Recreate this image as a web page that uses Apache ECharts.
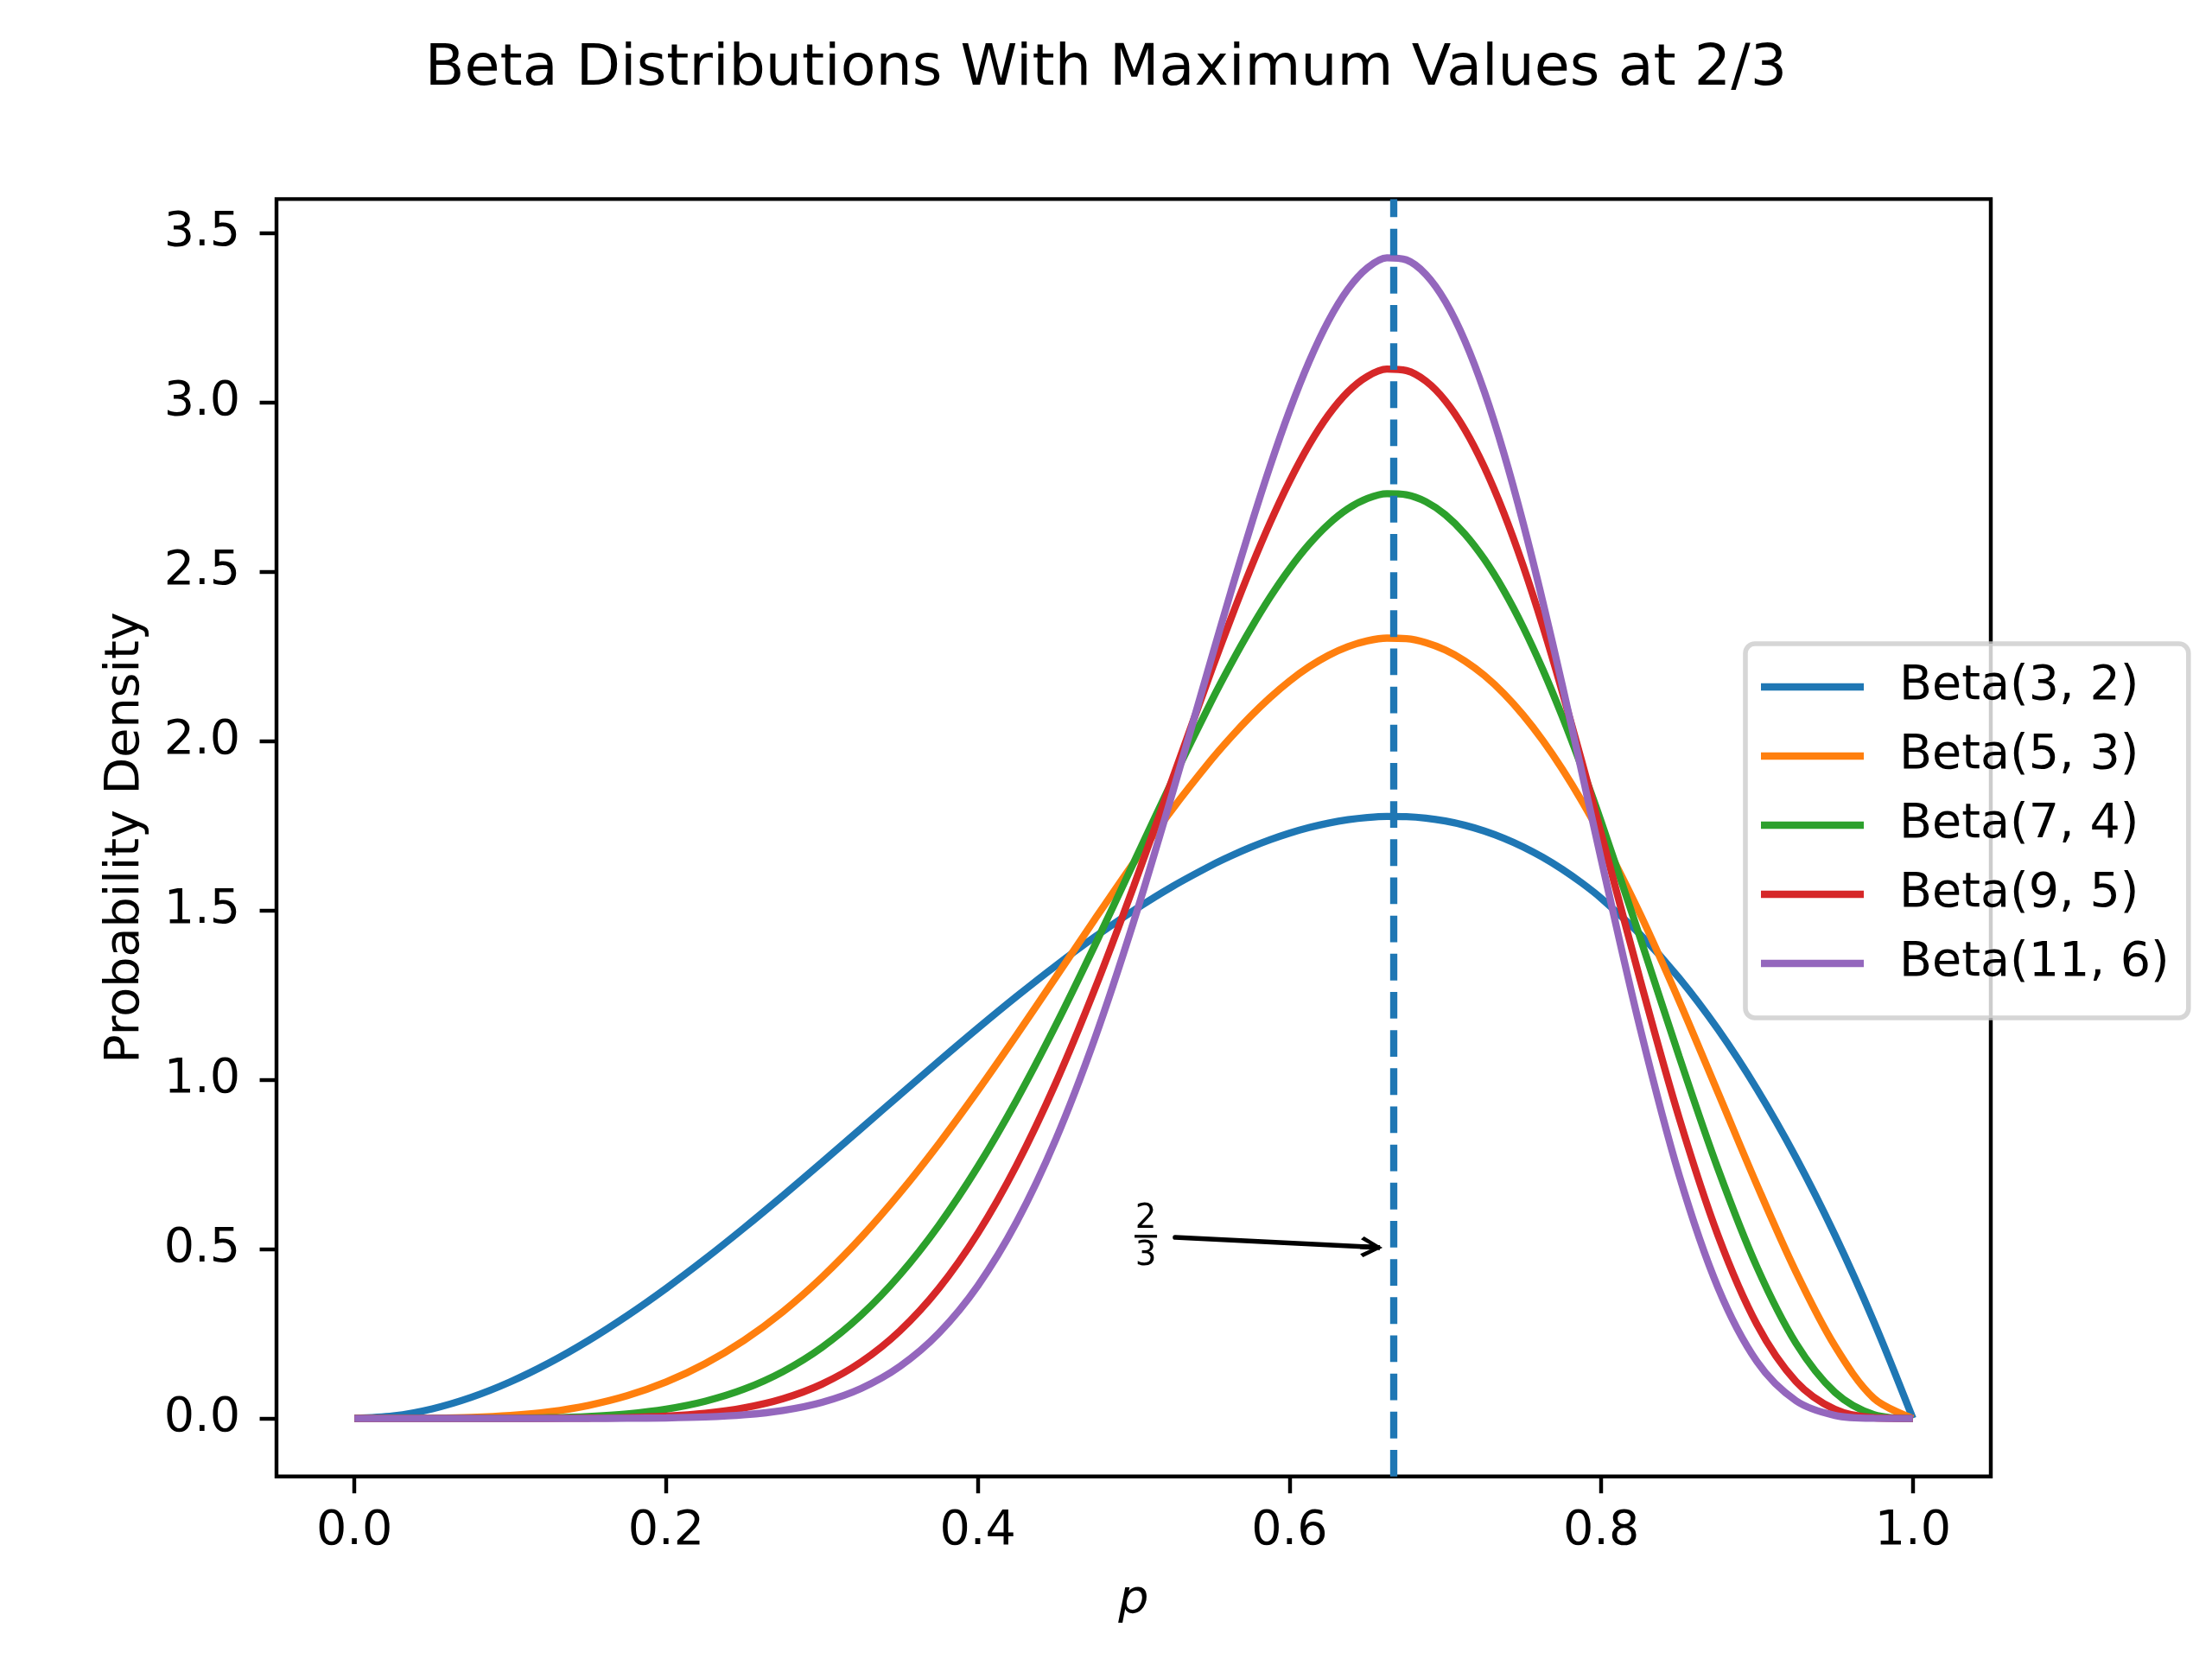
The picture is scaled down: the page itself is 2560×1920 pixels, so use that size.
<!DOCTYPE html>
<html>
<head>
<meta charset="utf-8">
<script src="https://cdn.jsdelivr.net/npm/echarts@6/dist/echarts.min.js"></script>
<style>
  html, body { margin: 0; padding: 0; background: #fff; }
  #chart { width: 2560px; height: 1920px; }
</style>
</head>
<body>
<div id="chart"></div>
<script>
// p values where the curves were read (finer around the peaks)
const xs = [0, 0.025, 0.05, 0.075, 0.1, 0.125, 0.15, 0.175, 0.2, 0.225, 0.25, 0.275, 0.3, 0.325, 0.35, 0.375, 0.4, 0.425, 0.45, 0.475, 0.5, 0.525, 0.55,
  0.5625, 0.575, 0.5875, 0.6, 0.6125, 0.625, 0.6375, 0.65, 0.6625, 0.675, 0.6875, 0.7, 0.7125, 0.725, 0.7375, 0.75, 0.7625, 0.775, 0.7875,
  0.8, 0.825, 0.85, 0.875, 0.9, 0.925, 0.95, 0.975, 1]

// densities, one list per curve
const beta32 = [0, 0.0073, 0.0285, 0.0624, 0.108, 0.1641, 0.2295, 0.3032, 0.384, 0.4708, 0.5625, 0.6579, 0.756, 0.8556, 0.9555, 1.0547, 1.152, 1.2463, 1.3365, 1.4214, 1.5, 1.5711, 1.6335,
  1.6611, 1.6862, 1.7085, 1.728, 1.7445, 1.7578, 1.7679, 1.7745, 1.7776, 1.7769, 1.7725, 1.764, 1.7514, 1.7346, 1.7133, 1.6875, 1.657, 1.6217, 1.5814,
  1.536, 1.4293, 1.3005, 1.1484, 0.972, 0.7701, 0.5415, 0.2852, 0]
const beta53 = [0, 0, 0.0006, 0.0028, 0.0085, 0.0196, 0.0384, 0.067, 0.1075, 0.1616, 0.2307, 0.3156, 0.4168, 0.5337, 0.6657, 0.8111, 0.9677, 1.1326, 1.3025, 1.4733, 1.6406, 1.7998, 1.9457,
  2.012, 2.0732, 2.1285, 2.1773, 2.219, 2.2531, 2.2789, 2.296, 2.304, 2.3024, 2.2908, 2.2689, 2.2367, 2.1939, 2.1404, 2.0764, 2.0021, 1.9176, 1.8235,
  1.7203, 1.4896, 1.2332, 0.9617, 0.6889, 0.4324, 0.2138, 0.0593, 0]
const beta74 = [0, 0, 0, 0.0001, 0.0006, 0.0021, 0.0059, 0.0135, 0.0275, 0.0507, 0.0865, 0.1385, 0.21, 0.3044, 0.4241, 0.5703, 0.7432, 0.9411, 1.1605, 1.3961, 1.6406, 1.885, 2.1188,
  2.2282, 2.3305, 2.4244, 2.5082, 2.5807, 2.6403, 2.6859, 2.7162, 2.7303, 2.7274, 2.7069, 2.6683, 2.6116, 2.5369, 2.4448, 2.336, 2.2116, 2.0732, 1.9225,
  1.7616, 1.4194, 1.0692, 0.7363, 0.4464, 0.222, 0.0772, 0.0113, 0]
const beta95 = [0, 0, 0, 0, 0, 0.0002, 0.0009, 0.0026, 0.0067, 0.0152, 0.0311, 0.0582, 0.1014, 0.1663, 0.2587, 0.384, 0.5466, 0.7488, 0.9902, 1.2669, 1.571, 1.8906, 2.2095,
  2.3629, 2.5087, 2.6443, 2.7669, 2.874, 2.9629, 3.0313, 3.077, 3.0984, 3.0939, 3.0629, 3.0048, 2.92, 2.8092, 2.674, 2.5165, 2.3395, 2.1463, 1.9408,
  1.7274, 1.2952, 0.8877, 0.5398, 0.277, 0.1091, 0.0267, 0.0021, 0]
const beta116 = [0, 0, 0, 0, 0, 0, 0.0001, 0.0005, 0.0016, 0.0045, 0.0109, 0.0238, 0.0477, 0.0885, 0.1538, 0.252, 0.3918, 0.5806, 0.8234, 1.1205, 1.4663, 1.8482, 2.2458,
  2.4423, 2.6321, 2.8111, 2.975, 3.1196, 3.2407, 3.3344, 3.3974, 3.4269, 3.4208, 3.3779, 3.2981, 3.1821, 3.0319, 2.8506, 2.6423, 2.4121, 2.1657, 1.9098,
  1.6509, 1.1519, 0.7183, 0.3858, 0.1675, 0.0523, 0.009, 0.0004, 0]

const names = ['Beta(3, 2)', 'Beta(5, 3)', 'Beta(7, 4)', 'Beta(9, 5)', 'Beta(11, 6)']
const colors = ['#1f77b4', '#ff7f0e', '#2ca02c', '#d62728', '#9467bd']
const curves = [beta32, beta53, beta74, beta95, beta116]

const xTicks = [0, 0.2, 0.4, 0.6, 0.8, 1.0]
const yTicks = [0, 0.5, 1.0, 1.5, 2.0, 2.5, 3.0, 3.5]
const xMin = -0.05, xMax = 1.05
const yMin = -0.171446, yMax = 3.600357
const peakX = 2 / 3

// annotation: text at (0.5, 0.5), arrow to (2/3, 0.5)
const fracAt = [0.5078, 0.5378]
const arrowFrom = [0.5266, 0.5347]
const arrowTo = [0.6525, 0.5058]

const font = 'DejaVu Sans'
const pt = 400 / 72  // figure is 400 dpi

const chevron = 'path://M12,0 L24,22 L20.5,25.5 L12,9 L3.5,25.5 L0,22 Z M9.2,3 L14.8,3 L14.8,26 L9.2,26 Z'

let series = curves.map((ys, i) => ({
  name: names[i],
  type: 'line',
  data: xs.map((x, j) => [x, ys[j]]),
  symbol: 'none',
  smooth: 0.33,
  lineStyle: {color: colors[i], width: 1.5 * pt},
  itemStyle: {color: colors[i]},
  emphasis: {disabled: true}
}))

// dashed line at 2/3 and the arrow annotation
series.push({
  type: 'line',
  data: [],
  silent: true,
  markLine: {
    silent: true,
    animation: false,
    symbol: 'none',
    label: {show: false},
    emphasis: {disabled: true},
    data: [
      [
        {coord: [peakX, yMin], lineStyle: {color: '#1f77b4', width: 1.5 * pt, type: [3.7 * 1.5 * pt, 1.6 * 1.5 * pt], opacity: 1}},
        {coord: [peakX, yMax]}
      ],
      [
        {coord: arrowFrom, symbol: 'none', lineStyle: {color: '#000', width: 1.0 * pt, type: 'solid', cap: 'round', opacity: 1}},
        {coord: arrowTo, symbol: chevron, symbolSize: [24, 26]}
      ]
    ]
  },
  markPoint: {
    silent: true,
    animation: false,
    symbol: 'rect',
    symbolSize: [26, 3.3],
    itemStyle: {color: '#000'},
    label: {
      show: true,
      position: 'inside',
      offset: [0, 2],
      formatter: '2\n3',
      fontFamily: font,
      fontSize: 7 * pt,
      lineHeight: 43,
      color: '#000'
    },
    data: [{coord: fracAt}]
  }
})

const axisCommon = {
  axisLine: {show: false, onZero: false},
  splitLine: {show: false},
  axisTick: {show: true, length: 3.5 * pt, lineStyle: {color: '#000', width: 0.8 * pt}},
  axisLabel: {color: '#000', fontFamily: font, fontSize: 10 * pt, formatter: v => v.toFixed(1)}
}

const option = {
  animation: false,
  backgroundColor: '#fff',
  title: {
    text: 'Beta Distributions With Maximum Values at 2/3',
    left: 'center',
    top: 36,
    textStyle: {color: '#000', fontFamily: font, fontSize: 12 * pt, fontWeight: 'normal', lineHeight: 80}
  },
  grid: {
    left: 320, right: 256, top: 230.4, bottom: 211.2,
    containLabel: false,
    outerBoundsMode: 'none',
    show: true,
    borderColor: '#000',
    borderWidth: 0.8 * pt,
    backgroundColor: 'transparent'
  },
  legend: {
    data: names,
    orient: 'vertical',
    left: 2020,
    top: 745,
    icon: 'rect',
    itemWidth: 119,
    itemHeight: 1.5 * pt,
    itemGap: 24,
    padding: [22, 22, 35, 18],
    backgroundColor: 'rgba(255,255,255,0.8)',
    borderColor: 'rgba(204,204,204,0.8)',
    borderWidth: 1.0 * pt,
    borderRadius: 11,
    selectedMode: false,
    textStyle: {color: '#000', fontFamily: font, fontSize: 10 * pt, lineHeight: 55, padding: [0, 0, 0, 36]}
  },
  xAxis: Object.assign({}, axisCommon, {
    type: 'value',
    min: xMin,
    max: xMax,
    name: 'p',
    nameLocation: 'middle',
    nameGap: 116,
    nameTextStyle: {color: '#000', fontFamily: font, fontSize: 10 * pt, fontStyle: 'italic', lineHeight: 56},
    axisTick: Object.assign({}, axisCommon.axisTick, {customValues: xTicks}),
    axisLabel: Object.assign({}, axisCommon.axisLabel, {customValues: xTicks, margin: 36})
  }),
  yAxis: Object.assign({}, axisCommon, {
    type: 'value',
    min: yMin,
    max: yMax,
    name: 'Probability Density',
    nameLocation: 'middle',
    nameGap: 146,
    nameTextStyle: {color: '#000', fontFamily: font, fontSize: 10 * pt},
    axisTick: Object.assign({}, axisCommon.axisTick, {customValues: yTicks}),
    axisLabel: Object.assign({}, axisCommon.axisLabel, {customValues: yTicks, margin: 42})
  }),
  series: series
}

const myChart = echarts.init(document.getElementById('chart'), null, {renderer: 'canvas'})
myChart.setOption(option)
</script>
</body>
</html>
